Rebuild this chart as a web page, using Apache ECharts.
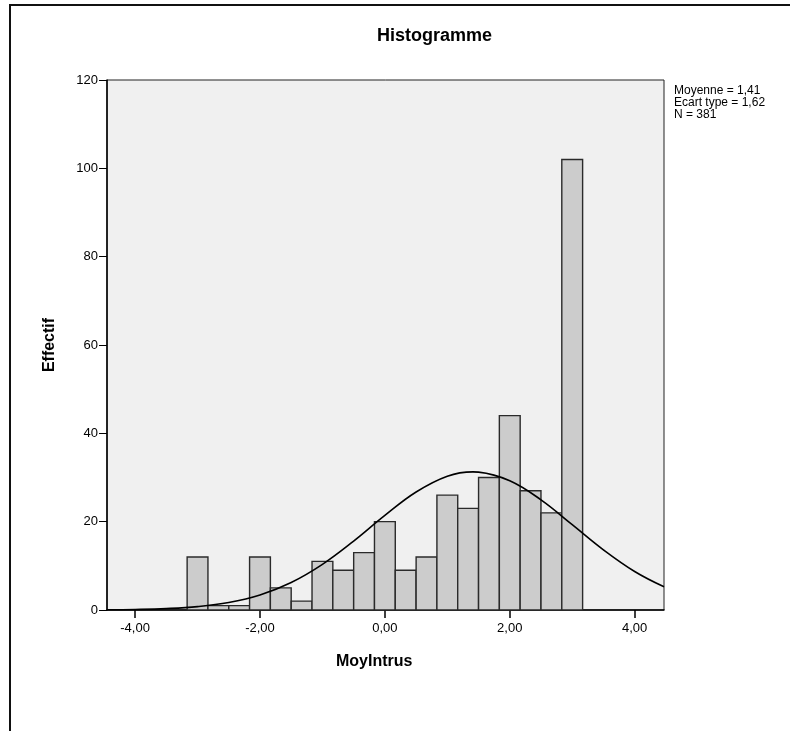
<!DOCTYPE html>
<html>
<head>
<meta charset="utf-8">
<script src="https://cdn.jsdelivr.net/npm/echarts@6/dist/echarts.min.js"></script>
<style>
html,body{margin:0;padding:0;background:#fff;}
#chart{width:790px;height:731px;}
</style>
</head>
<body>
<div id="chart"></div>
<script>
// Histogram bins (centres, bin width 1/3) and counts
const binCenters = [-3.0, -2.667, -2.333, -2.0, -1.667, -1.333, -1.0, -0.667, -0.333, 0.0,
                    0.333, 0.667, 1.0, 1.333, 1.667, 2.0, 2.333, 2.667, 3.0];
const counts = [12, 1, 1, 12, 5, 2, 11, 9, 13, 20, 9, 12, 26, 23, 30, 44, 27, 22, 102];
const binWidth = 1 / 3;

// Normal curve
const curveX = [-4.45, -4.0, -3.5, -3.0, -2.5, -2.0, -1.5, -1.0, -0.5, 0.0, 0.5, 1.0, 1.41, 1.5, 2.0, 2.5, 3.0, 3.5, 4.0, 4.47];
const curveY = [0.05, 0.12, 0.32, 0.77, 1.7, 3.41, 6.23, 10.34, 15.6, 21.41, 26.71, 30.29, 31.27, 31.22, 29.26, 24.94, 19.32, 13.61, 8.71, 5.25];

const xTicks = [-4, -2, 0, 2, 4];
const yTicks = [0, 20, 40, 60, 80, 100, 120];

const titleText = 'Histogramme';
const xName = 'MoyIntrus';
const yName = 'Effectif';
const statsLines = ['Moyenne = 1,41', 'Ecart type = 1,62', 'N = 381'];

const font = '"Liberation Sans", Arial, sans-serif';

const chart = echarts.init(document.getElementById('chart'));

const barData = binCenters.map((c, i) => [c - binWidth / 2, c + binWidth / 2, counts[i]]);
const lineData = curveX.map((x, i) => [x, curveY[i]]);

chart.setOption({
  animation: false,
  backgroundColor: '#ffffff',
  grid: {
    left: 107, right: 126, top: 80, bottom: 121,
    show: true, backgroundColor: '#f0f0f0', borderColor: '#222', borderWidth: 1
  },
  xAxis: {
    type: 'value', min: -4.45, max: 4.47,
    splitLine: { show: false },
    axisLine: { show: true, onZero: false, lineStyle: { color: '#000', width: 1.5 } },
    axisTick: { show: true, length: 8, customValues: xTicks, lineStyle: { color: '#000', width: 1.5 } },
    axisLabel: {
      customValues: xTicks, color: '#000', fontFamily: font, fontSize: 13, margin: 12,
      formatter: v => v.toFixed(2).replace('.', ',')
    }
  },
  yAxis: {
    type: 'value', min: 0, max: 120, interval: 20,
    splitLine: { show: false },
    axisLine: { show: true, onZero: false, lineStyle: { color: '#000', width: 1.5 } },
    axisTick: { show: true, length: 8, lineStyle: { color: '#000', width: 1 } },
    axisLabel: { color: '#000', fontFamily: font, fontSize: 13, margin: 9 }
  },
  series: [
    {
      type: 'custom',
      data: barData,
      encode: { x: [0, 1], y: 2 },
      renderItem: function (params, api) {
        const p0 = api.coord([api.value(0), 0]);
        const p1 = api.coord([api.value(1), api.value(2)]);
        return {
          type: 'rect',
          shape: { x: p0[0], y: p1[1], width: p1[0] - p0[0], height: p0[1] - p1[1] },
          style: { fill: '#cccccc', stroke: '#2a2a2a', lineWidth: 1.4 }
        };
      },
      z: 2
    },
    {
      type: 'line',
      data: lineData,
      smooth: 0.4,
      showSymbol: false,
      symbol: 'none',
      lineStyle: { color: '#000', width: 1.6 },
      z: 3
    }
  ],
  graphic: [
    { type: 'rect', shape: { x: 10, y: 5, width: 900, height: 900 },
      style: { fill: null, stroke: '#111', lineWidth: 2 }, silent: true },
    { type: 'text', left: 377, top: 27,
      style: { text: titleText, font: 'bold 18px ' + font, fill: '#000' } },
    { type: 'text', left: 336, top: 654,
      style: { text: xName, font: 'bold 16px ' + font, fill: '#000' } },
    { type: 'text', x: 50, y: 345, rotation: Math.PI / 2,
      style: { text: yName, font: 'bold 16px ' + font, fill: '#000', align: 'center', verticalAlign: 'middle' } },
    { type: 'text', left: 674, top: 85,
      style: { text: statsLines.join('\n'), font: '12px ' + font, fill: '#000', lineHeight: 12 } }
  ]
});
</script>
</body>
</html>
